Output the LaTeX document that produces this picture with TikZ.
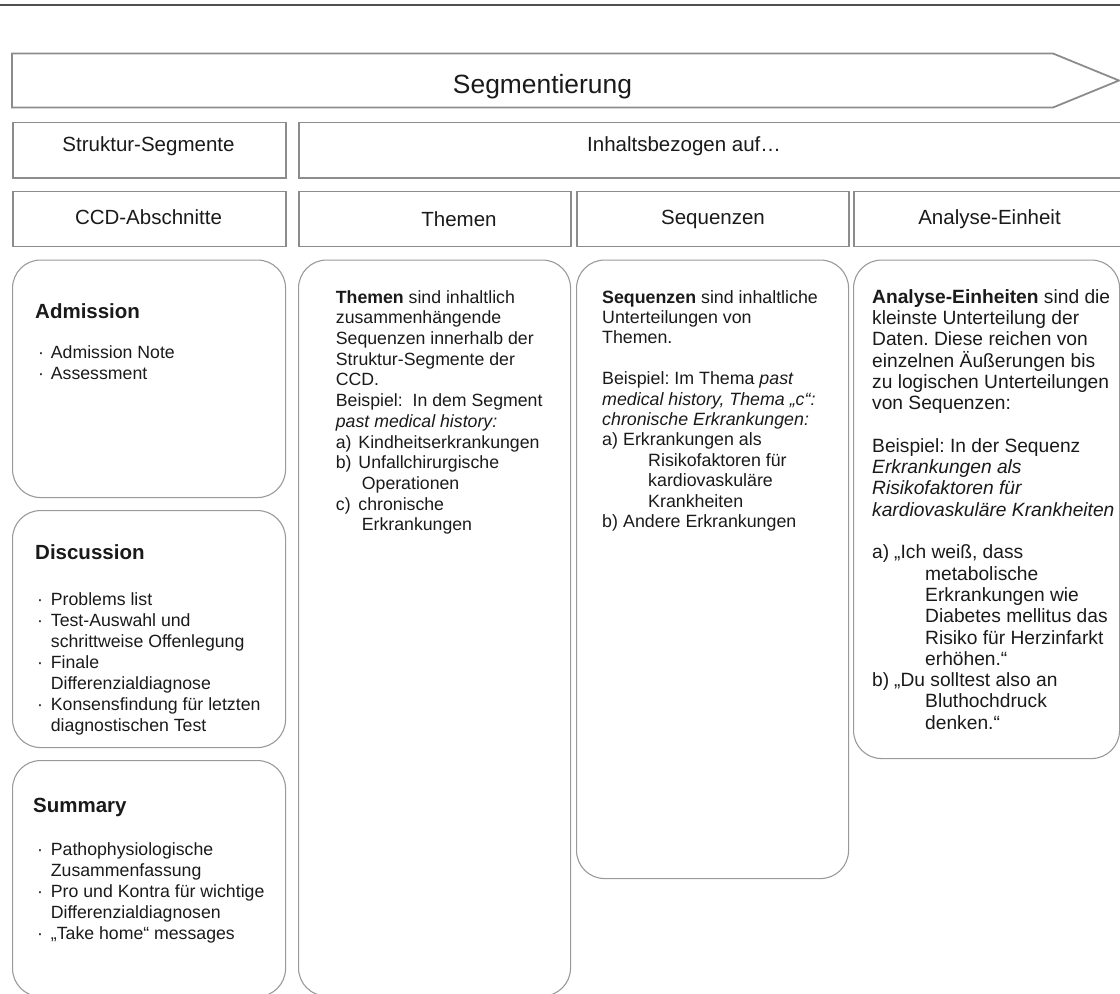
\documentclass[tikz,border=0pt]{standalone}
\usepackage{fontspec}
\setmainfont{Liberation Sans}
\definecolor{edge}{HTML}{8C8C8C}
\definecolor{cardline}{HTML}{9A9A9A}
\definecolor{topline}{HTML}{505050}
\definecolor{ink}{HTML}{1A1A1A}
\newcommand{\itm}[2]{\makebox[#1][l]{#2}}
\frenchspacing
\begin{document}
\begin{tikzpicture}[x=1pt,y=-1pt,
  hdr/.style={draw=edge, line width=1.8pt, inner sep=0pt, anchor=north west},
  card/.style={draw=cardline, line width=1.1pt, rounded corners=28pt, inner sep=0pt, anchor=north west},
  htxt/.style={font=\fontsize{20.5}{24}\selectfont, anchor=base, inner sep=0pt, text=ink},
  head/.style={font=\fontsize{20.5}{24}\selectfont\bfseries, anchor=base west, inner sep=0pt, text=ink},
  body/.style={font=\fontsize{17.7}{20.7}\selectfont, align=left, anchor=north west, inner sep=0pt, text=ink},
  seqbody/.style={font=\fontsize{17.8}{20.4}\selectfont, align=left, anchor=north west, inner sep=0pt, text=ink},
  anabody/.style={font=\fontsize{19.2}{21.3}\selectfont, align=left, anchor=north west, inner sep=0pt, text=ink},
  lst/.style={font=\fontsize{17.7}{21}\selectfont, align=left, anchor=north west, inner sep=0pt, text=ink},
]
\useasboundingbox (0,0) rectangle (1120,994);
\clip (0,0) rectangle (1120,994);

% top rule
\coordinate (tl) at (0,5);
\coordinate (tr) at (1120,5);
\draw[topline, line width=2pt] (tl) -- (tr);

% arrow
\draw[edge, line width=1.8pt, fill=white] (12,53.5) -- (1053,53.5) -- (1119,80.5) -- (1053,107.5) -- (12,107.5) -- cycle;
\node[font=\fontsize{26.4}{30}\selectfont, anchor=base, inner sep=0pt, text=ink] (seg) at (542.5,93) {Segmentierung};

% row 1
\node[hdr, minimum width=273pt, minimum height=55.5pt] (struk) at (12,121.5) {};
\node[hdr, minimum width=840pt, minimum height=55.5pt] (inh) at (298,121.5) {};
\node[htxt] (strukt) at (148.5,151) {Struktur-Segmente};
\node[htxt, anchor=base west] (inht) at (587,151) {Inhaltsbezogen auf…};

% row 2
\node[hdr, minimum width=273pt, minimum height=55pt] (ccd) at (12,190.5) {};
\node[hdr, minimum width=272pt, minimum height=55pt] (them) at (298,190.5) {};
\node[hdr, minimum width=272pt, minimum height=55pt] (seq) at (576,190.5) {};
\node[hdr, minimum width=280pt, minimum height=55pt] (ana) at (853,190.5) {};
\node[htxt] (ccdt) at (148.5,224) {CCD-Abschnitte};
\node[htxt] (themt) at (459,226) {Themen};
\node[htxt] (seqt) at (713,224) {Sequenzen};
\node[htxt] (anat) at (989.5,224) {Analyse-Einheit};

% cards
\node[card, minimum width=273pt, minimum height=237.5pt] (adm) at (12,259.5) {};
\node[card, minimum width=273pt, minimum height=237pt] (dis) at (12,510) {};
\node[card, minimum width=273pt, minimum height=236pt] (sum) at (12,760) {};
\node[card, minimum width=272pt, minimum height=736pt] (themc) at (298,259.5) {};
\node[card, minimum width=272pt, minimum height=618.5pt] (seqc) at (576,259.5) {};
\node[card, minimum width=266pt, minimum height=498.5pt] (anac) at (853,259.5) {};

% left column texts
\node[head] (admh) at (35,318) {Admission};
\node[lst] (admb) at (38,343.3) {\strut\itm{12.7pt}{·}Admission Note\\
\itm{12.7pt}{·}Assessment};

\node[head] (dish) at (35,559) {Discussion};
\node[lst] (disb) at (37,590.3) {\strut\itm{13.7pt}{·}Problems list\\
\itm{13.7pt}{·}Test-Auswahl und\\
\hspace*{13.7pt}schrittweise Offenlegung\\
\itm{13.7pt}{·}Finale\\
\hspace*{13.7pt}Differenzialdiagnose\\
\itm{13.7pt}{·}Konsensfindung für letzten\\
\hspace*{13.7pt}diagnostischen Test};

\node[head] (sumh) at (33,812) {Summary};
\node[lst] (sumb) at (37,840.3) {\strut\itm{13.7pt}{·}Pathophysiologische\\
\hspace*{13.7pt}Zusammenfassung\\
\itm{13.7pt}{·}Pro und Kontra für wichtige\\
\hspace*{13.7pt}Differenzialdiagnosen\\
\itm{13.7pt}{·}„Take home“ messages};

% Themen text
\node[body] (themb) at (335.7,288.5) {\strut\textbf{Themen} sind inhaltlich\\
zusammenhängende\\
Sequenzen innerhalb der\\
Struktur-Segmente der\\
CCD.\\
Beispiel:\ \ In dem Segment\\
\textit{past medical history:}\\
\itm{22.6pt}{a)}Kindheitserkrankungen\\
\itm{22.6pt}{b)}Unfallchirurgische\\
\hspace*{26pt}Operationen\\
\itm{22.6pt}{c)}chronische\\
\hspace*{26pt}Erkrankungen};

% Sequenzen text
\node[seqbody] (seqb) at (602,288.7) {\strut\textbf{Sequenzen} sind inhaltliche\\
Unterteilungen von\\
Themen.\\[20.4pt]
Beispiel: Im Thema \textit{past}\\
\textit{medical history, Thema „c“:}\\
\textit{chronische Erkrankungen:}\\
\itm{21pt}{a)}Erkrankungen als\\
\hspace*{46pt}Risikofaktoren für\\
\hspace*{46pt}kardiovaskuläre\\
\hspace*{46pt}Krankheiten\\
\itm{21pt}{b)}Andere Erkrankungen};

% Analyse text
\node[anabody] (anab) at (872,288.1) {\strut\textbf{Analyse-Einheiten} sind die\\
kleinste Unterteilung der\\
Daten. Diese reichen von\\
einzelnen Äußerungen bis\\
zu logischen Unterteilungen\\
von Sequenzen:\\[21.3pt]
Beispiel: In der Sequenz\\
\textit{Erkrankungen als}\\
\textit{Risikofaktoren für}\\
\textit{kardiovaskuläre Krankheiten}\\[21.3pt]
\itm{22pt}{a)}„Ich weiß, dass\\
\hspace*{53pt}metabolische\\
\hspace*{53pt}Erkrankungen wie\\
\hspace*{53pt}Diabetes mellitus das\\
\hspace*{53pt}Risiko für Herzinfarkt\\
\hspace*{53pt}erhöhen.“\\
\itm{22pt}{b)}„Du solltest also an\\
\hspace*{53pt}Bluthochdruck\\
\hspace*{53pt}denken.“};
\end{tikzpicture}
\end{document}
